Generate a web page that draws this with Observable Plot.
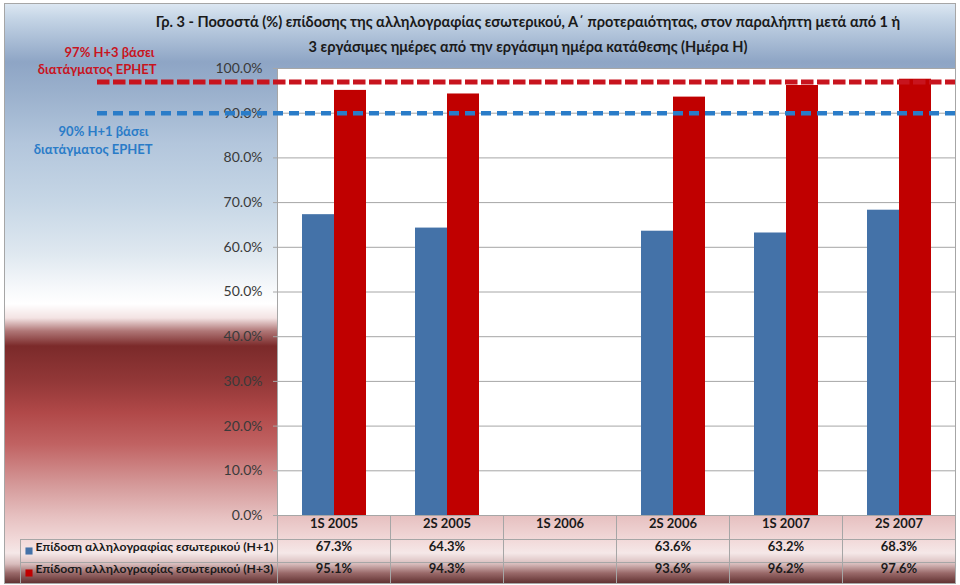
<!DOCTYPE html>
<html>
<head>
<meta charset="utf-8">
<script src="https://cdn.jsdelivr.net/npm/d3@7"></script>
<script src="https://cdn.jsdelivr.net/npm/@observablehq/plot@0.6"></script>
<style>
  body { margin: 0; background: #ffffff; }
  #wrap { position: relative; width: 960px; height: 585px; overflow: hidden; font-family: Lato, "Open Sans", sans-serif; }
  #bg {
    position: absolute; left: 4px; top: 3px; width: 952px; height: 581px; box-sizing: border-box;
    border: 1px solid #a6a6a6;
    background: linear-gradient(to bottom,
      #dce7f2 0px, #c5d5e6 14px, #8ea5c5 58px, #9bb1cd 90px, #b3c6dc 140px, #c7d7e6 200px,
      #dfe8f0 250px, #f7f9fb 285px, #ffffff 300px, #f3e3e3 314px, #b07777 327px, #7b2a2a 342px,
      #933838 378px, #b04848 408px, #c06262 440px, #d49898 480px, #e6c0c0 512px, #f2dada 537px,
      #f5e8e8 549px, #d8bcbc 560px, #9a6a6a 569px, #5c2c2c 580px);
  }
  #chart { position: absolute; left: 0; top: 0; }
  #title { position: absolute; left: 100px; width: 856px; top: 8px; text-align: center; font-weight: 700; font-size: 16px; line-height: 25px; color: #1a1a1a; transform: scaleX(0.91); transform-origin: 428px 0; }
</style>
</head>
<body>
<div id="wrap"><div id="bg"></div><div id="chart"></div><div id="title"></div></div>
<script>
// ---- data ----
const categories = ["1S 2005", "2S 2005", "1S 2006", "2S 2006", "1S 2007", "2S 2007"];
const h1Values = [67.3, 64.3, null, 63.6, 63.2, 68.3];
const h3Values = [95.1, 94.3, null, 93.6, 96.2, 97.6];
const seriesKeys = ["Η+1", "Η+3"];
const seriesLabels = ["Επίδοση αλληλογραφίας εσωτερικού (Η+1)", "Επίδοση αλληλογραφίας εσωτερικού (Η+3)"];
const seriesColors = ["#4472a8", "#c00000"];
const yTicks = [0, 10, 20, 30, 40, 50, 60, 70, 80, 90, 100];
const targetValues = [97, 90];
const targetLine1 = ["97% Η+3 βάσει", "90% Η+1 βάσει"];
const targetLine2 = ["διατάγματος ΕΡΗΕΤ", "διατάγματος ΕΡΗΕΤ"];
const targetColors = ["#c8141e", "#2a7cc8"];
const titleLines = [
  "Γρ. 3 - Ποσοστά (%) επίδοσης της αλληλογραφίας εσωτερικού, Α΄ προτεραιότητας, στον παραλήπτη μετά από 1 ή",
  "3 εργάσιμες ημέρες από την εργάσιμη ημέρα κατάθεσης (Ημέρα Η)"
];

// ---- tables built from the arrays ----
const bars = [];
categories.forEach((c, i) => {
  if (h1Values[i] != null) bars.push({cat: c, series: seriesKeys[0], value: h1Values[i]});
  if (h3Values[i] != null) bars.push({cat: c, series: seriesKeys[1], value: h3Values[i]});
});
const tableRows = categories.map((c, i) => ({cat: c, h1: h1Values[i], h3: h3Values[i]}));
const fmt = v => v == null ? "" : v.toFixed(1) + "%";

document.getElementById("title").innerHTML = titleLines.join("<br>");

// ---- layout ----
const W = 960, H = 585, ML = 277, MR = 5, MT = 68, MB = 70;
const plotH = H - MT - MB;
const bandW = (W - ML - MR) / categories.length;
const spanRight = -(W - MR - ML - bandW);
const rowH = [24, 47, 68];
const gridColor = "#a6a6a6";
const font = "Lato, 'Open Sans', sans-serif";

const marks = [
  // one white plot background spanning all columns (no seams between facets)
  Plot.frame({fill: "white", stroke: null, facetAnchor: "left", insetRight: spanRight}),
  Plot.gridY(yTicks, {stroke: gridColor, strokeOpacity: 1}),
  Plot.axisY(yTicks, {tickFormat: fmt, tickSize: 4, tickPadding: 11, stroke: gridColor, fill: "#3a3a3a", fontSize: 14, label: null}),
  Plot.barY(bars, {fx: "cat", x: "series", y: "value", fill: "series"}),
  // plot border lines
  Plot.frame({anchor: "left", facetAnchor: "left", stroke: gridColor, insetBottom: -rowH[2]}),
  Plot.frame({anchor: "right", facetAnchor: "right", stroke: gridColor, insetBottom: -rowH[2]}),
  Plot.frame({anchor: "bottom", stroke: gridColor}),
  // table column separators
  Plot.frame({anchor: "left", stroke: gridColor, insetTop: plotH, insetBottom: -rowH[2]}),
  // table row lines (extended under the legend labels)
  ...[0, 1, 2].map(k => Plot.frame({anchor: "bottom", facetAnchor: "left", stroke: gridColor,
      insetBottom: -rowH[k], insetLeft: -(ML - 20), insetRight: spanRight})),
  Plot.frame({anchor: "left", facetAnchor: "left", stroke: gridColor, insetLeft: -(ML - 20), insetTop: plotH + rowH[0], insetBottom: -rowH[2]}),
  // table text
  Plot.text(tableRows, {fx: "cat", text: "cat", frameAnchor: "bottom", dy: 12, fontWeight: "bold", fontSize: 13, fill: "#1a1a1a"}),
  Plot.text(tableRows, {fx: "cat", text: d => fmt(d.h1), frameAnchor: "bottom", dy: 35.5, fontWeight: "bold", fontSize: 13, fill: "#1a1a1a"}),
  Plot.text(tableRows, {fx: "cat", text: d => fmt(d.h3), frameAnchor: "bottom", dy: 57.5, fontWeight: "bold", fontSize: 13, fill: "#1a1a1a"}),
  // legend labels in table
  ...seriesLabels.map((lab, k) => Plot.text([lab], {fx: () => categories[0], text: d => d, frameAnchor: "bottom-left",
      dx: -(ML - 35), dy: k === 0 ? 35.5 : 57.5, textAnchor: "start", fontWeight: "bold", fontSize: 12.2, fill: "#1a1a1a"})),
  ...seriesColors.map((col, k) => Plot.dot([col], {fx: () => categories[0], frameAnchor: "bottom-left",
      dx: -(ML - 28.5), dy: k === 0 ? 35.5 : 57.5, symbol: "square", r: 4, fill: d => d, stroke: null})),
  // target dashed lines + labels
  ...targetValues.map((v, k) => Plot.ruleY([v], {facetAnchor: "left", stroke: targetColors[k], strokeWidth: k === 0 ? 5 : 4.5,
      strokeDasharray: k === 0 ? "12.5,3.5" : "10,6", insetLeft: -180, insetRight: spanRight})),
  ...targetValues.map((v, k) => Plot.text([v], {facetAnchor: "left", y: d => d, frameAnchor: "left", text: () => targetLine1[k],
      dx: k === 0 ? -123 : -129, dy: k === 0 ? -29 : 19, textAnchor: "end", fontWeight: "bold", fontSize: 13, fill: targetColors[k]})),
  ...targetValues.map((v, k) => Plot.text([v], {facetAnchor: "left", y: d => d, frameAnchor: "left", text: () => targetLine2[k],
      dx: k === 0 ? -121 : -125, dy: k === 0 ? -12 : 37, textAnchor: "end", fontWeight: "bold", fontSize: 13, fill: targetColors[k]}))
];

const chart = Plot.plot({
  width: W, height: H,
  marginLeft: ML, marginRight: MR, marginTop: MT, marginBottom: MB,
  style: {background: "transparent", fontFamily: font, fontSize: "13px", overflow: "visible"},
  fx: {domain: categories, padding: 0, axis: null, label: null},
  x: {domain: seriesKeys, paddingInner: 0, paddingOuter: 0.74, axis: null},
  y: {domain: [0, 100], axis: null},
  color: {domain: seriesKeys, range: seriesColors},
  marks
});
document.getElementById("chart").appendChild(chart);
</script>
</body>
</html>
